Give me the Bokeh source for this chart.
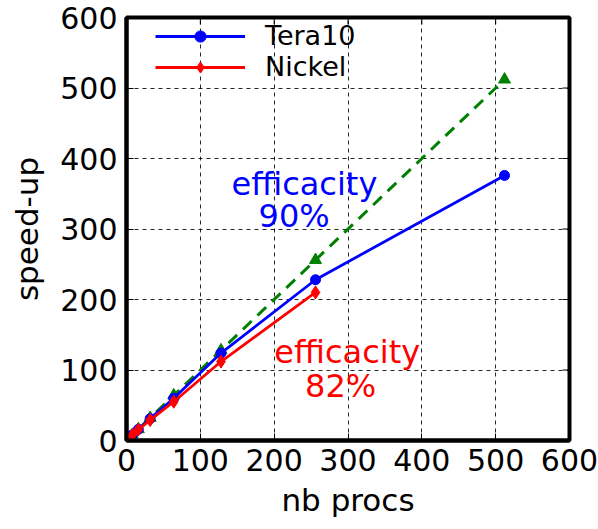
import math
from bokeh.plotting import figure
from bokeh.models import Range1d, Legend, LegendItem, FixedTicker, ColumnDataSource
from bokeh.core.properties import value
from bokeh.embed import file_html
from bokeh.resources import INLINE

# number of processors
procs = [1, 8, 16, 32, 64, 128, 256, 512]
# ideal (linear) speed-up
ideal = [1, 8, 16, 32, 64, 128, 256, 512]
# measured speed-up on each machine
tera10 = [1, 8, 15.8, 31, 60, 124, 228, 376]
nickel_procs = [1, 8, 16, 32, 64, 128, 256]
nickel = [1, 8, 15.5, 29, 55, 112, 210]

ticks = [0, 100, 200, 300, 400, 500, 600]

# efficiency annotations
note_x = [241, 227, 299, 290]
note_y = [364, 318, 125, 77]
note_text = ["efficacity", "90%", "efficacity", "82%"]
note_color = ["#0000ff", "#0000ff", "#ff0000", "#ff0000"]

FONT = "DejaVu Sans"
X_MAX = 600
Y_MAX = 600

p = figure(width=598, height=529, output_backend="svg", toolbar_location=None,
           x_range=Range1d(0, X_MAX), y_range=Range1d(0, Y_MAX),
           min_border_left=126, min_border_right=29, min_border_top=17,
           min_border_bottom=89)

p.outline_line_color = "black"
p.outline_line_width = 4

for ax in p.xaxis + p.yaxis:
    ax.ticker = FixedTicker(ticks=ticks)
    ax.axis_line_width = 4
    ax.axis_line_color = "black"
    ax.major_tick_in = 7
    ax.major_tick_out = 0
    ax.major_tick_line_width = 1
    ax.minor_tick_line_color = None
    ax.major_label_text_font = FONT
    ax.major_label_text_font_size = "30px"
    ax.major_label_text_color = "black"
    ax.axis_label_text_font = FONT
    ax.axis_label_text_font_size = "31px"
    ax.axis_label_text_font_style = "normal"
    ax.axis_label_text_color = "black"

p.xaxis.axis_label = "nb procs"
p.yaxis.axis_label = "speed-up"
p.xaxis.major_label_standoff = 8
p.yaxis.major_label_standoff = 9
p.xaxis.axis_label_standoff = 8
p.yaxis.axis_label_standoff = 12

p.grid.grid_line_color = "black"
p.grid.grid_line_dash = "4 4"
p.grid.grid_line_width = 1
p.grid.grid_line_alpha = 0.85
p.xgrid.ticker = FixedTicker(ticks=ticks)
p.ygrid.ticker = FixedTicker(ticks=ticks)

# inward tick marks along the top and right edges of the frame
p.ray(x=ticks, y=[Y_MAX] * len(ticks), length=7, length_units="screen",
      angle=-math.pi / 2, line_color="black", line_width=1)
p.ray(x=[X_MAX] * len(ticks), y=ticks, length=7, length_units="screen",
      angle=math.pi, line_color="black", line_width=1)

# ideal speed-up
p.line(procs, ideal, line_color="#008000", line_width=3, line_dash="12 8")
p.scatter(procs, ideal, marker="triangle", size=12, fill_color="#008000",
          line_color="#008000")

# Tera10
tl = p.line(procs, tera10, line_color="#0000ff", line_width=2.8)
ts = p.scatter(procs, tera10, marker="circle", size=10, fill_color="#0000ff",
               line_color="#0000ff")

# Nickel
nl = p.line(nickel_procs, nickel, line_color="#ff0000", line_width=2.8)
ns = p.scatter(nickel_procs, nickel, marker="diamond", size=13,
               fill_color="#ff0000", line_color="#ff0000")

src = ColumnDataSource(dict(x=note_x, y=note_y, t=note_text, c=note_color))
p.text(x="x", y="y", text="t", source=src, text_color="c",
       text_font=value(FONT), text_font_size="32px",
       text_align="center", text_baseline="middle")

legend = Legend(items=[LegendItem(label="Tera10", renderers=[tl, ts]),
                       LegendItem(label="Nickel", renderers=[nl, ns])],
                location=(29, 358))
legend.background_fill_alpha = 0
legend.border_line_alpha = 0
legend.padding = 0
legend.margin = 0
legend.spacing = 0
legend.glyph_width = 90
legend.glyph_height = 28
legend.label_height = 28
legend.label_standoff = 20
legend.label_text_font = FONT
legend.label_text_font_size = "27px"
legend.label_text_color = "black"
p.add_layout(legend)

open("out.html", "w").write(file_html(p, INLINE))
